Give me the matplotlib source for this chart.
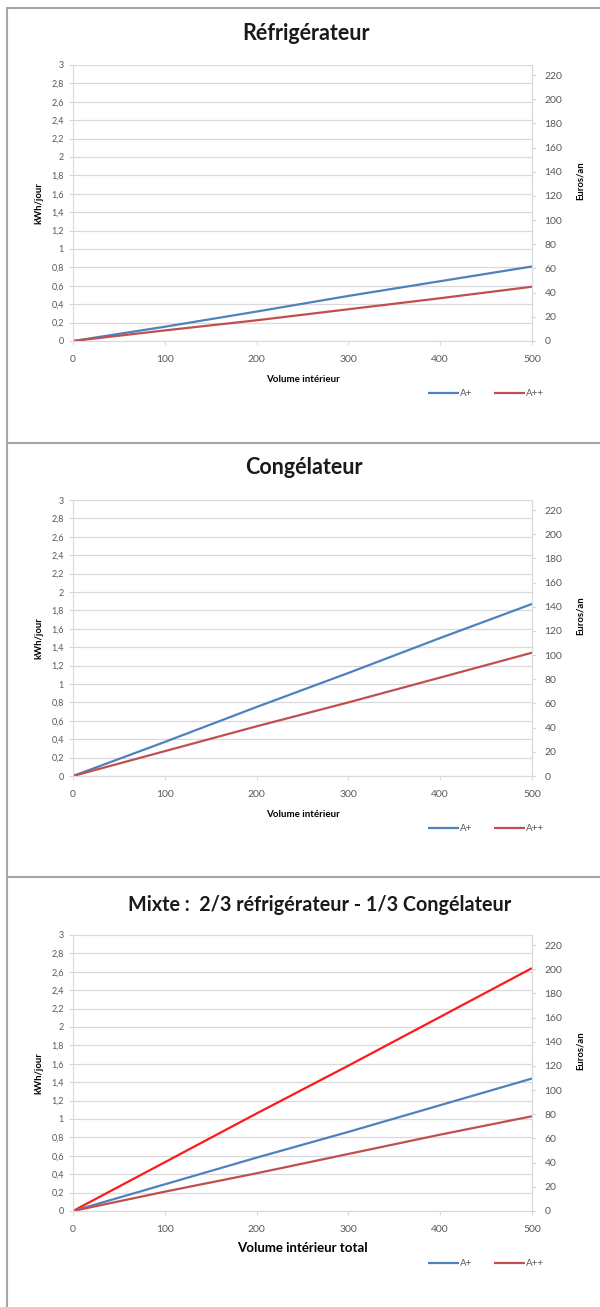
import matplotlib.pyplot as plt
from matplotlib.lines import Line2D
from matplotlib.ticker import FixedLocator, FuncFormatter

plt.rcParams['font.family'] = ['Lato', 'DejaVu Sans']

# valeurs (kWh/jour)
volume = [0, 100, 200, 300, 400, 500]

refrig_a_plus = [0, 0.155, 0.32, 0.49, 0.65, 0.81]
refrig_a_plusplus = [0, 0.115, 0.225, 0.345, 0.465, 0.59]

congel_a_plus = [0, 0.37, 0.75, 1.12, 1.5, 1.87]
congel_a_plusplus = [0, 0.27, 0.54, 0.8, 1.07, 1.34]

mixte_rouge = [0, 0.53, 1.06, 1.58, 2.11, 2.64]
mixte_a_plus = [0, 0.29, 0.58, 0.86, 1.15, 1.44]
mixte_a_plusplus = [0, 0.21, 0.41, 0.62, 0.83, 1.03]

titles = ["Réfrigérateur", "Congélateur", "Mixte :  2/3 réfrigérateur - 1/3 Congélateur"]
xlabels = ["Volume intérieur", "Volume intérieur", "Volume intérieur total"]

kwh_ticks = [i / 10 for i in range(0, 31, 2)]
euro_ticks = list(range(0, 221, 20))
euro_max = 228.3

BLUE = '#4F81BD'
RED = '#C0504D'
BRIGHT = '#FF1A1A'
GRID = '#D9D9D9'
TXT = '#595959'

W, H = 600, 1307
fig = plt.figure(figsize=(W / 100, H / 100), dpi=100)


def fx(px):
    return px / W


def fy(py):
    return 1 - py / H


def comma(v, pos):
    s = f"{v:.1f}".rstrip('0').rstrip('.')
    return s.replace('.', ',')


# (haut, bas) des zones de tracé en pixels
panels = [(65, 341), (500, 776), (935, 1211)]
title_pos = [(306, 33), (304, 468), (320, 905)]
title_size = [15.5, 15.5, 14.2]
series = [
    [(refrig_a_plus, BLUE, 'A+'), (refrig_a_plusplus, RED, 'A++')],
    [(congel_a_plus, BLUE, 'A+'), (congel_a_plusplus, RED, 'A++')],
    [(mixte_rouge, BRIGHT, '_nolegend_'), (mixte_a_plus, BLUE, 'A+'),
     (mixte_a_plusplus, RED, 'A++')],
]

left, right = 73, 532
for k, (top, bot) in enumerate(panels):
    ax = fig.add_axes([fx(left), fy(bot), fx(right - left), (bot - top) / H])
    for vals, col, lab in series[k]:
        ax.plot(volume, vals, color=col, lw=1.6, label=lab, solid_capstyle='butt')
    ax.set_xlim(0, 500)
    ax.set_ylim(0, 3)
    ax.yaxis.set_major_locator(FixedLocator(kwh_ticks))
    ax.yaxis.set_major_formatter(FuncFormatter(comma))
    ax.set_xticks(volume)
    ax.grid(axis='y', color=GRID, lw=0.9)
    ax.set_axisbelow(True)
    for sp in ax.spines.values():
        sp.set_color(GRID)
    ax.spines['top'].set_visible(False)
    ax.tick_params(axis='both', colors=GRID, labelcolor=TXT, labelsize=6.5,
                   length=3, width=0.8)
    ax.tick_params(axis='x', labelsize=7.5, pad=7)
    ax.set_ylabel("kWh/jour", fontsize=6.8, fontweight='bold', labelpad=6)
    if k == 2:
        ax.set_xlabel(xlabels[k], fontsize=9.5, fontweight='bold', labelpad=6)
    else:
        ax.set_xlabel(xlabels[k], fontsize=7, fontweight='bold', labelpad=8)

    ax2 = ax.twinx()
    ax2.set_ylim(0, euro_max)
    ax2.set_yticks(euro_ticks)
    for sp in ax2.spines.values():
        sp.set_visible(False)
    ax2.spines['right'].set_visible(True)
    ax2.spines['right'].set_color(GRID)
    ax2.tick_params(axis='y', colors=GRID, labelcolor=TXT, labelsize=7.5,
                    length=3, width=0.8, pad=6)
    ax2.set_ylabel("Euros/an", fontsize=6.8, fontweight='bold')
    ax2.yaxis.set_label_coords(1.095, 0.58)

    leg = ax.legend(loc='center', bbox_to_anchor=(0.9, -0.19), ncol=2,
                    frameon=False, fontsize=7, handlelength=3.2,
                    handletextpad=0.1, columnspacing=2.2)
    for t in leg.get_texts():
        t.set_color(TXT)

    tx, ty = title_pos[k]
    fig.text(fx(tx), fy(ty), titles[k], ha='center', va='center',
             fontsize=title_size[k], fontweight='bold', color='#1A1A1A')

# cadres des trois graphiques
border = '#A6A6A6'
fig.add_artist(Line2D([fx(7), fx(7)], [fy(8), 0], color=border, lw=1.5))
for yy in [8, 443, 877]:
    fig.add_artist(Line2D([fx(7), 1], [fy(yy), fy(yy)], color=border, lw=1.5))

fig.savefig('out.png', dpi=100, facecolor='white')
